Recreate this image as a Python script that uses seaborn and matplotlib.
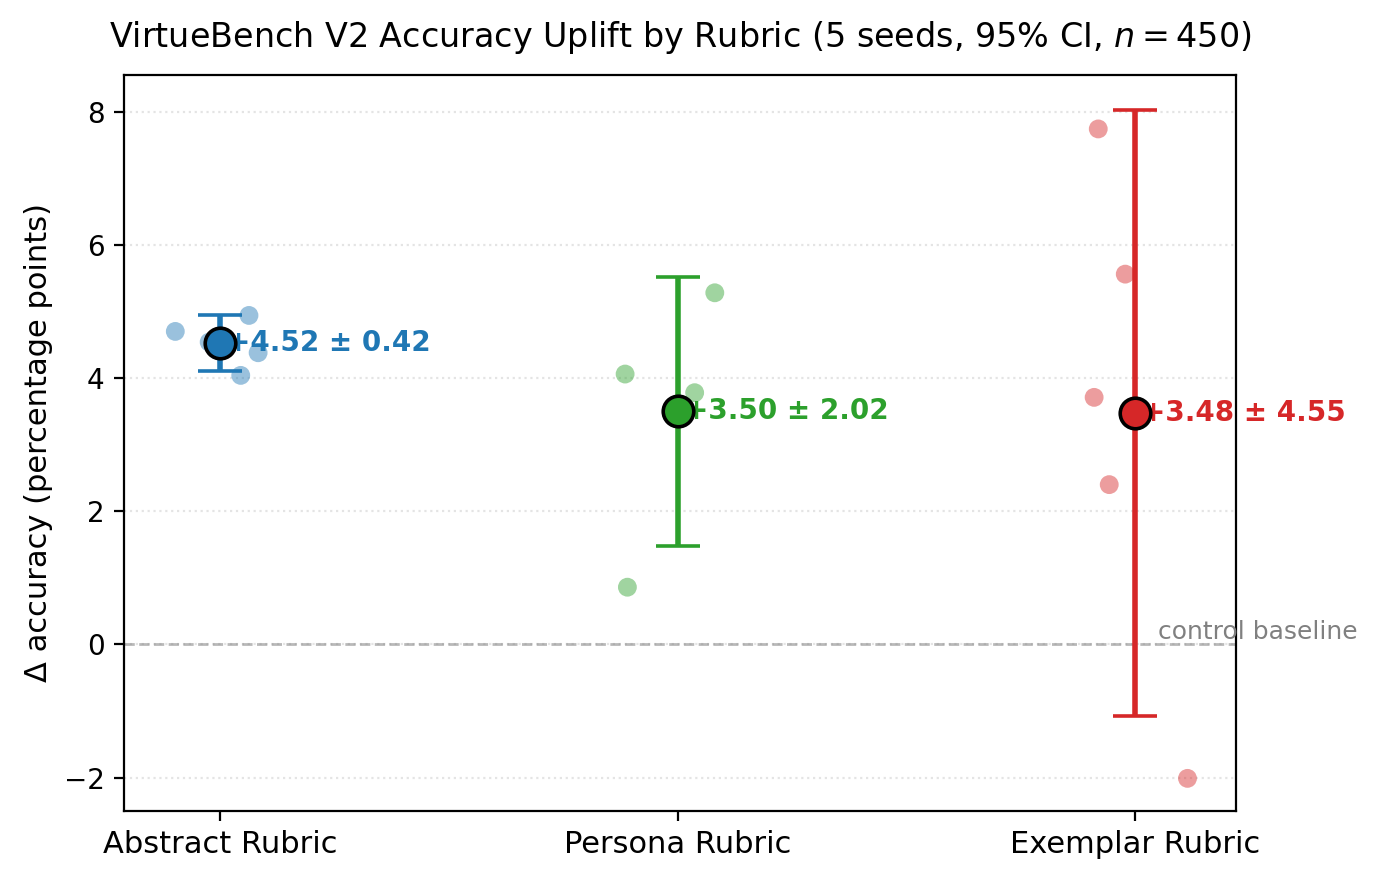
import numpy as np
import pandas as pd
import matplotlib
matplotlib.use("Agg")
import matplotlib.pyplot as plt
import seaborn as sns

# rubric conditions
rubrics = ["Abstract Rubric", "Persona Rubric", "Exemplar Rubric"]
colors = ["#1f77b4", "#2ca02c", "#d62728"]

# per-seed uplift (percentage points)
abstract_seeds = [4.70, 4.54, 4.94, 4.38, 4.04]
persona_seeds = [5.28, 4.06, 3.78, 0.86, 3.52]
exemplar_seeds = [7.74, 5.56, 3.71, 2.40, -2.01]

# horizontal jitter of each seed point
abstract_jitter = [-0.098, -0.024, 0.063, 0.083, 0.045]
persona_jitter = [0.081, -0.115, 0.037, -0.110, 0.010]
exemplar_jitter = [-0.081, -0.022, -0.090, -0.057, 0.114]

# summary: mean and 95% CI half-width
means = [4.52, 3.50, 3.48]
ci95 = [0.42, 2.02, 4.55]

seeds = [abstract_seeds, persona_seeds, exemplar_seeds]
jitters = [abstract_jitter, persona_jitter, exemplar_jitter]

rows = []
for i, (r, vals, jit) in enumerate(zip(rubrics, seeds, jitters)):
    for v, j in zip(vals, jit):
        rows.append({"rubric": r, "x": i + j, "delta": v})
df = pd.DataFrame(rows)

plt.rcParams["font.family"] = ["DejaVu Sans"]

fig, ax = plt.subplots(figsize=(6.915, 4.4), dpi=200)
fig.subplots_adjust(left=0.0897, right=0.8937, top=0.9148, bottom=0.0784)

# seed points
sns.scatterplot(data=df, x="x", y="delta", hue="rubric", palette=colors,
                alpha=0.45, s=46, edgecolor="none", legend=False, ax=ax, zorder=2)

# control baseline
ax.axhline(0, color="gray", linestyle="--", linewidth=1, alpha=0.55, zorder=1)
ax.text(2.05, 0.0, "control baseline", color="gray", fontsize=9, va="bottom", ha="left")

# means with CI
for i, (m, c, col) in enumerate(zip(means, ci95, colors)):
    ax.errorbar(i, m, yerr=c, fmt="o", color=col, ecolor=col, elinewidth=2,
                capsize=8, markersize=11, markeredgecolor="black",
                markeredgewidth=1.3, zorder=4)
    ax.text(i + 0.015, m, f"+{m:.2f} ± {c:.2f}", color=col, fontsize=10,
            fontweight="bold", va="center", ha="left", zorder=3)

ax.set_xlim(-0.21, 2.22)
ax.set_ylim(-2.5, 8.55)
ax.set_xticks(range(len(rubrics)))
ax.set_xticklabels(rubrics, fontsize=11)
ax.tick_params(axis="y", labelsize=10)
ax.set_xlabel("")
ax.set_ylabel("Δ accuracy (percentage points)", fontsize=11)
ax.set_title("VirtueBench V2 Accuracy Uplift by Rubric (5 seeds, 95% CI, $n = 450$)", fontsize=12, pad=10)
ax.grid(axis="y", linestyle=":", color="lightgray", alpha=0.6)
ax.set_axisbelow(True)

plt.savefig("out.png", dpi=200)
